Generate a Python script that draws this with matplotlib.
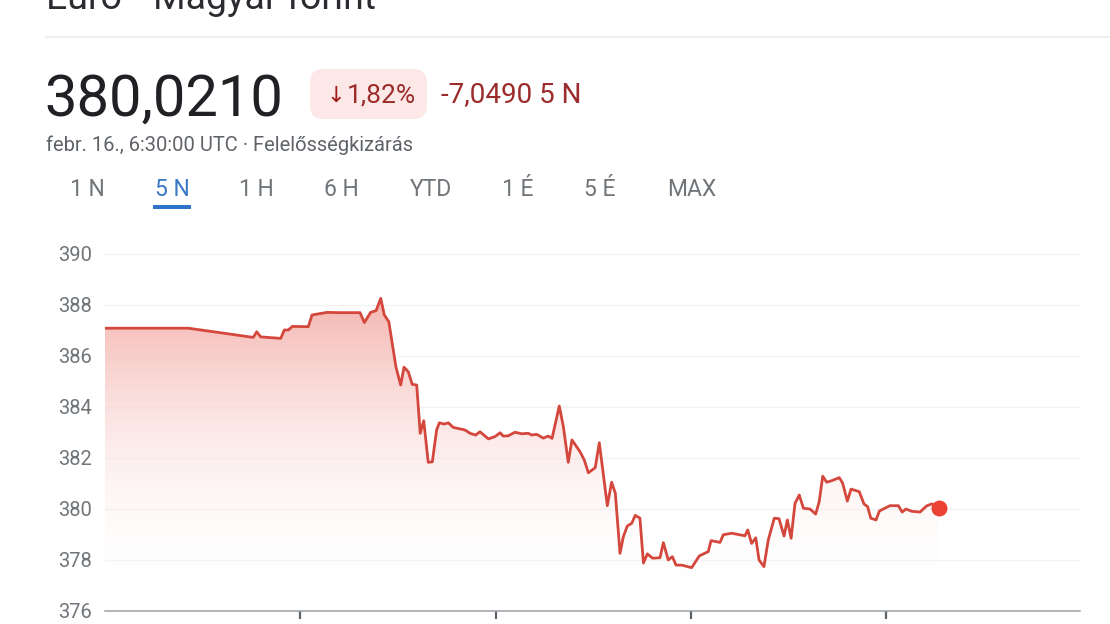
import numpy as np
import matplotlib
matplotlib.use("Agg")
import matplotlib.pyplot as plt
from matplotlib.patches import FancyBboxPatch, Polygon, Rectangle
from matplotlib.colors import LinearSegmentedColormap

plt.rcParams['font.family'] = ['Roboto', 'DejaVu Sans']

days = [0.000,0.427,0.759,0.777,0.797,0.900,0.918,0.939,0.959,1.041,1.060,1.138,1.203,1.306,1.328,1.360,1.388,1.412,1.430,1.453,1.490,1.514,1.531,1.553,1.573,1.596,1.614,1.632,1.655,1.676,1.698,1.712,1.736,1.758,1.783,1.843,1.869,1.898,1.920,1.963,1.997,2.023,2.039,2.065,2.099,2.134,2.167,2.185,2.210,2.244,2.270,2.289,2.326,2.347,2.372,2.391,2.432,2.454,2.475,2.510,2.531,2.572,2.594,2.613,2.637,2.654,2.674,2.697,2.715,2.739,2.757,2.777,2.804,2.842,2.859,2.884,2.905,2.924,2.953,3.004,3.043,3.089,3.103,3.149,3.166,3.209,3.277,3.291,3.311,3.332,3.349,3.374,3.396,3.427,3.451,3.477,3.494,3.513,3.533,3.555,3.576,3.610,3.639,3.657,3.675,3.695,3.721,3.760,3.777,3.801,3.820,3.862,3.886,3.905,3.921,3.948,3.965,4.019,4.062,4.082,4.101,4.131,4.173,4.207,4.233,4.269]
rates = [387.09,387.09,386.73,386.95,386.75,386.69,387.02,387.02,387.16,387.15,387.61,387.71,387.70,387.70,387.31,387.71,387.78,388.26,387.61,387.35,385.56,384.86,385.56,385.38,384.89,384.86,382.97,383.46,381.83,381.85,383.10,383.38,383.33,383.38,383.20,383.10,382.97,382.90,383.03,382.75,382.84,382.99,382.86,382.87,383.01,382.95,382.97,382.90,382.93,382.78,382.86,382.77,384.04,383.23,381.83,382.71,382.25,381.92,381.42,381.62,382.60,380.13,381.05,380.62,378.26,378.91,379.33,379.44,379.75,379.64,377.88,378.24,378.07,378.09,378.68,378.00,378.13,377.80,377.80,377.70,378.16,378.33,378.76,378.69,378.99,379.05,378.95,379.18,378.65,378.87,378.00,377.74,378.78,379.64,379.62,378.94,379.57,378.85,380.22,380.55,380.03,380.00,379.80,380.29,381.29,381.05,381.11,381.23,381.01,380.31,380.78,380.68,380.20,380.09,379.64,379.57,379.92,380.13,380.13,379.88,380.00,379.91,379.88,380.12,380.20,380.05]
y_ticks = [376, 378, 380, 382, 384, 386, 388, 390]
x_ticks = [1, 2, 3, 4]
periods = ["1 N", "5 N", "1 H", "6 H", "YTD", "1 É", "5 É", "MAX"]
period_x = [87, 172, 256, 341, 431, 518, 600, 692]

W, H = 1110, 624
fig = plt.figure(figsize=(W/100, H/100), dpi=100, facecolor='white')
ax = fig.add_axes([105/W, 1-611/H, 975/W, 357/H])
ax.set_facecolor('white')
for s in ['top', 'right', 'left']:
    ax.spines[s].set_visible(False)
ax.spines['bottom'].set_color('#9aa0a6')
ax.spines['bottom'].set_linewidth(1.1)
ax.set_yticks(y_ticks)
ax.set_xticks(x_ticks)
ax.set_xticklabels([])
ax.tick_params(axis='y', length=0, pad=9.5, labelsize=14.5, labelcolor='#70757a')
ax.tick_params(axis='x', length=6, width=1.6, color='#5f6368', direction='out')
ax.yaxis.grid(True, color='#f1f3f4', linewidth=1)
ax.set_axisbelow(True)

cmap = LinearSegmentedColormap.from_list('g', [(1, 1, 1, 0), (0.96, 0.71, 0.69, 1)])
grad = np.linspace(1, 0, 256).reshape(-1, 1)
im = ax.imshow(grad, extent=(0, days[-1], 376.6, 388.3), aspect='auto', cmap=cmap,
               vmin=0, vmax=1, zorder=1.5)
poly = Polygon(list(zip(days, rates)) + [(days[-1], 376), (days[0], 376)],
               closed=True, transform=ax.transData, fc='none', ec='none')
ax.add_patch(poly)
im.set_clip_path(poly)
ax.set_xlim(0, 975/195.3)
ax.set_ylim(376, 390)

ax.plot(days, rates, color='#d4473c', linewidth=2.0, solid_joinstyle='round', zorder=3)
ax.plot(days[-1:], rates[-1:], 'o', color='#ea4335', markersize=11.5, mec='none', zorder=4)
ax.spines['bottom'].set_zorder(5)

def T(x, y, s, **k):
    k.setdefault('va', 'baseline')
    return fig.text(x/W, 1-y/H, s, **k)

T(46, 9, "Euro • Magyar forint", fontsize=26.9, color='#2b2c30')
fig.add_artist(plt.Line2D([46/W, 1110/W], [1-36.5/H]*2, color='#e8eaed', lw=1.1))
T(44, 116, "380,0210", fontsize=41.7, color='#202124')
fig.add_artist(FancyBboxPatch((310/W, 1-119/H), 117/W, 50/H,
               boxstyle="round,pad=0,rounding_size=0.012", mutation_aspect=W/H,
               transform=fig.transFigure, fc='#fce8e6', ec='none'))
T(326, 102, "↓", fontsize=16, color='#a01c1c', family=['DejaVu Sans'])
T(347, 102, "1,82%", fontsize=19, color='#9c2b2b')
T(441, 102, "-7,0490 5 N", fontsize=20, color='#9c2b2b')
T(46, 151, "febr. 16., 6:30:00 UTC · Felelősségkizárás", fontsize=14.5, color='#5f6368')
for lab, x in zip(periods, period_x):
    c = '#3a78c6' if lab == "5 N" else '#70757a'
    T(x, 196, lab, fontsize=16.5, color=c, ha='center')
fig.add_artist(Rectangle((153/W, 1-208.5/H), 38/W, 3.5/H, transform=fig.transFigure,
                         fc='#2b74c9', ec='none'))

fig.savefig('out.png', dpi=100)
